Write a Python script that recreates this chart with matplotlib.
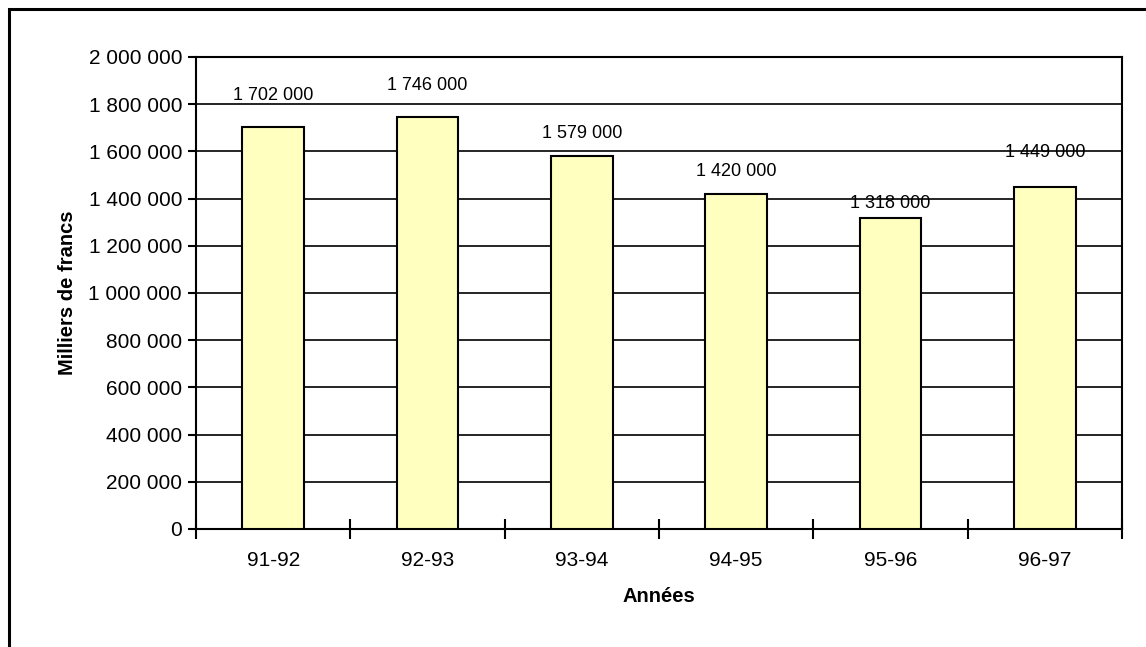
import matplotlib.pyplot as plt
import matplotlib.ticker as mtick
from matplotlib.patches import Rectangle

years = ["91-92", "92-93", "93-94", "94-95", "95-96", "96-97"]
values = [1702000, 1746000, 1579000, 1420000, 1318000, 1449000]
# vertical gap between bar top and label centre, in pixels (as in the original)
label_gap_px = [32, 31, 23, 22, 14, 35]

plt.rcParams["font.family"] = ["Liberation Sans", "DejaVu Sans"]

fig = plt.figure(figsize=(11.46, 6.47), dpi=100)
ax = fig.add_axes([196 / 1146, 1 - 529 / 647, (1122 - 196) / 1146, (529 - 57) / 647])

x = list(range(len(years)))
ax.bar(x, values, width=0.4, color="#FFFFC0", edgecolor="black", linewidth=1.5, zorder=3)

for xi, v, gap in zip(x, values, label_gap_px):
    ax.annotate(
        f"{v:,}".replace(",", " "),
        xy=(xi, v),
        xytext=(0, gap * 0.72),
        textcoords="offset points",
        ha="center",
        va="center",
        fontsize=13,
        zorder=4,
    )

ax.set_xlim(-0.5, len(years) - 0.5)
ax.set_ylim(0, 2000000)
ax.yaxis.set_major_locator(mtick.MultipleLocator(200000))
ax.yaxis.set_major_formatter(
    mtick.FuncFormatter(lambda v, _: f"{int(v):,}".replace(",", " "))
)
ax.grid(axis="y", color="black", linewidth=1.2, zorder=1)
ax.set_axisbelow(True)

ax.set_xticks(x)
ax.set_xticklabels(years)
ax.set_xticks([i - 0.5 for i in range(len(years) + 1)], minor=True)
ax.tick_params(axis="x", which="major", length=0, labelsize=15, pad=16)
ax.tick_params(axis="x", which="minor", direction="inout", length=15, width=1.5)
ax.tick_params(axis="y", direction="out", length=6, width=1.5, labelsize=15, pad=4)

for s in ax.spines.values():
    s.set_linewidth(1.5)

ax.set_xlabel("Années", fontsize=14.5, fontweight="bold", labelpad=12)
ax.set_ylabel("Milliers de francs", fontsize=14.5, fontweight="bold", labelpad=8)

# outer frame (cut off at right and bottom like the original)
fig.patches.append(
    Rectangle(
        (9 / 1146, -0.2),
        1.2,
        1.2 - 9 / 647,
        transform=fig.transFigure,
        fill=False,
        edgecolor="black",
        linewidth=2.2,
        clip_on=False,
    )
)

fig.savefig("out.png", dpi=100)
